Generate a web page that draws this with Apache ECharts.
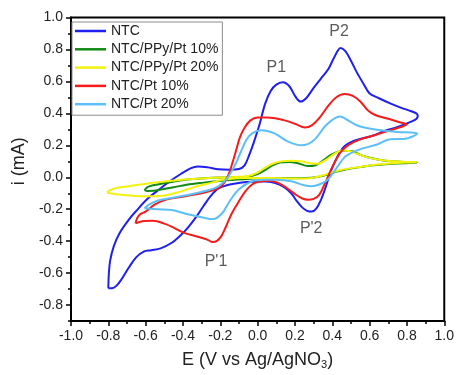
<!DOCTYPE html>
<html>
<head>
<meta charset="utf-8">
<script src="https://cdn.jsdelivr.net/npm/echarts@6/dist/echarts.min.js"></script>
<style>
  html, body { margin: 0; padding: 0; background: #fff; }
  #chart { width: 457px; height: 375px; }
</style>
</head>
<body>
<div id="chart"></div>
<script>
// Cyclic voltammograms: current i (mA) against potential E (V vs Ag/AgNO3).
// Each loop is listed as [E, i] pairs: anodic sweep left to right, then the return sweep.

const seriesNames = ['NTC', 'NTC/PPy/Pt 10%', 'NTC/PPy/Pt 20%', 'NTC/Pt 10%', 'NTC/Pt 20%'];
const seriesColors = ['#1f1ff0', '#138a13', '#f2f20f', '#f51c1c', '#5cbff7'];

const ntc = [
  [-0.80, -0.695], [-0.797, -0.60], [-0.79, -0.52], [-0.77, -0.43], [-0.74, -0.35],
  [-0.69, -0.265], [-0.65, -0.21], [-0.59, -0.135], [-0.53, -0.078], [-0.47, -0.025],
  [-0.41, 0.022], [-0.36, 0.056], [-0.32, 0.068], [-0.27, 0.063], [-0.21, 0.05],
  [-0.15, 0.047], [-0.10, 0.052], [-0.07, 0.075], [-0.045, 0.14], [-0.02, 0.22],
  [0.01, 0.33], [0.04, 0.46], [0.07, 0.54], [0.10, 0.58], [0.135, 0.595],
  [0.17, 0.57], [0.20, 0.51], [0.23, 0.474], [0.26, 0.495], [0.30, 0.56],
  [0.34, 0.62], [0.38, 0.68], [0.41, 0.75], [0.445, 0.81], [0.47, 0.79],
  [0.50, 0.73], [0.53, 0.66], [0.57, 0.58], [0.60, 0.525], [0.65, 0.495],
  [0.71, 0.463], [0.77, 0.435], [0.82, 0.415], [0.85, 0.40], [0.858, 0.385],
  [0.85, 0.365], [0.82, 0.347], [0.75, 0.315], [0.68, 0.29], [0.62, 0.262],
  [0.55, 0.24], [0.50, 0.22], [0.465, 0.195], [0.44, 0.155], [0.415, 0.10],
  [0.39, 0.03], [0.365, -0.06], [0.34, -0.14], [0.315, -0.195], [0.29, -0.215],
  [0.265, -0.21], [0.24, -0.19], [0.21, -0.15], [0.18, -0.10], [0.14, -0.06],
  [0.09, -0.035], [0.04, -0.026], [-0.01, -0.028], [-0.06, -0.03], [-0.11, -0.037],
  [-0.16, -0.048], [-0.21, -0.07], [-0.25, -0.115], [-0.29, -0.18], [-0.33, -0.25],
  [-0.37, -0.31], [-0.41, -0.36], [-0.46, -0.41], [-0.52, -0.445], [-0.57, -0.457],
  [-0.61, -0.465], [-0.65, -0.50], [-0.69, -0.565], [-0.73, -0.64], [-0.757, -0.68],
  [-0.78, -0.695], [-0.80, -0.695]
];

const ppyPt10 = [
  [-0.606, -0.08], [-0.59, -0.062], [-0.56, -0.05], [-0.50, -0.038], [-0.44, -0.025],
  [-0.36, -0.013], [-0.28, -0.006], [-0.20, -0.002], [-0.12, 0.0], [-0.05, 0.005],
  [0.0, 0.02], [0.04, 0.045], [0.08, 0.075], [0.12, 0.092], [0.165, 0.095],
  [0.21, 0.09], [0.27, 0.07], [0.31, 0.075], [0.35, 0.105], [0.40, 0.145],
  [0.45, 0.165], [0.50, 0.165], [0.54, 0.145], [0.59, 0.125], [0.65, 0.11],
  [0.72, 0.10], [0.80, 0.095], [0.855, 0.093],
  [0.78, 0.088], [0.70, 0.083], [0.62, 0.075], [0.54, 0.062], [0.47, 0.048],
  [0.42, 0.035], [0.37, 0.015], [0.32, 0.002], [0.26, -0.005], [0.18, -0.006],
  [0.10, -0.005], [0.02, -0.006], [-0.06, -0.01], [-0.14, -0.017], [-0.22, -0.025],
  [-0.30, -0.035], [-0.38, -0.047], [-0.45, -0.062], [-0.51, -0.075], [-0.56, -0.085],
  [-0.59, -0.086], [-0.606, -0.08]
];

const ppyPt20 = [
  [-0.807, -0.095], [-0.79, -0.08], [-0.76, -0.068], [-0.70, -0.058], [-0.63, -0.045],
  [-0.55, -0.032], [-0.46, -0.022], [-0.37, -0.013], [-0.28, -0.006], [-0.20, -0.002],
  [-0.12, 0.002], [-0.05, 0.008], [0.0, 0.03], [0.04, 0.06], [0.08, 0.085],
  [0.13, 0.10], [0.18, 0.104], [0.23, 0.10], [0.28, 0.088], [0.32, 0.085],
  [0.36, 0.105], [0.41, 0.145], [0.45, 0.168], [0.49, 0.165], [0.53, 0.148],
  [0.58, 0.128], [0.65, 0.11], [0.73, 0.10], [0.80, 0.096], [0.855, 0.095],
  [0.80, 0.092], [0.72, 0.088], [0.63, 0.078], [0.55, 0.065], [0.45, 0.047],
  [0.40, 0.032], [0.36, 0.016], [0.31, 0.0], [0.26, -0.008], [0.18, -0.008],
  [0.09, -0.005], [0.0, -0.004], [-0.08, -0.005], [-0.15, -0.01], [-0.20, -0.018],
  [-0.25, -0.035], [-0.31, -0.052], [-0.37, -0.073], [-0.43, -0.095], [-0.49, -0.112],
  [-0.55, -0.118], [-0.63, -0.118], [-0.70, -0.113], [-0.76, -0.106], [-0.79, -0.10],
  [-0.807, -0.095]
];

const pt10 = [
  [-0.654, -0.289], [-0.645, -0.255], [-0.63, -0.232], [-0.60, -0.215], [-0.55, -0.17],
  [-0.49, -0.14], [-0.43, -0.127], [-0.36, -0.113], [-0.30, -0.10], [-0.25, -0.085],
  [-0.21, -0.068], [-0.18, -0.035], [-0.155, 0.02], [-0.135, 0.09], [-0.115, 0.17],
  [-0.095, 0.25], [-0.07, 0.31], [-0.04, 0.355], [0.0, 0.375], [0.05, 0.375],
  [0.10, 0.368], [0.15, 0.355], [0.20, 0.335], [0.254, 0.311], [0.29, 0.325],
  [0.33, 0.37], [0.38, 0.45], [0.42, 0.50], [0.466, 0.521], [0.51, 0.51],
  [0.55, 0.475], [0.59, 0.42], [0.63, 0.39], [0.70, 0.367], [0.76, 0.345],
  [0.80, 0.33],
  [0.78, 0.32], [0.72, 0.298], [0.63, 0.265], [0.54, 0.233], [0.49, 0.205],
  [0.45, 0.165], [0.42, 0.11], [0.39, 0.04], [0.36, -0.04], [0.33, -0.11],
  [0.30, -0.135], [0.27, -0.14], [0.24, -0.133], [0.20, -0.105], [0.16, -0.07],
  [0.11, -0.035], [0.06, -0.022], [0.01, -0.027], [-0.03, -0.045], [-0.065, -0.087],
  [-0.10, -0.15], [-0.14, -0.23], [-0.17, -0.31], [-0.195, -0.37], [-0.22, -0.40],
  [-0.24, -0.406], [-0.27, -0.39], [-0.31, -0.375], [-0.36, -0.36], [-0.40, -0.345],
  [-0.45, -0.315], [-0.50, -0.29], [-0.56, -0.272], [-0.61, -0.274], [-0.654, -0.289]
];

const pt20 = [
  [-0.606, -0.194], [-0.58, -0.17], [-0.54, -0.148], [-0.44, -0.125], [-0.35, -0.105],
  [-0.26, -0.08], [-0.21, -0.056], [-0.16, 0.0], [-0.12, 0.08], [-0.09, 0.16],
  [-0.06, 0.235], [-0.03, 0.275], [0.02, 0.294], [0.09, 0.275], [0.16, 0.225],
  [0.236, 0.20], [0.30, 0.23], [0.37, 0.33], [0.44, 0.381], [0.50, 0.345],
  [0.55, 0.318], [0.63, 0.299], [0.75, 0.284], [0.855, 0.274],
  [0.785, 0.24], [0.71, 0.238], [0.64, 0.205], [0.54, 0.172], [0.47, 0.13],
  [0.43, 0.07], [0.40, 0.02], [0.37, -0.02], [0.33, -0.045], [0.29, -0.056],
  [0.25, -0.05], [0.18, -0.025], [0.10, -0.015], [0.04, -0.015], [-0.03, -0.025],
  [-0.10, -0.075], [-0.15, -0.15], [-0.19, -0.225], [-0.24, -0.262], [-0.30, -0.25],
  [-0.38, -0.23], [-0.46, -0.205], [-0.53, -0.20], [-0.59, -0.196], [-0.606, -0.194]
];

const loops = [ntc, ppyPt10, ppyPt20, pt10, pt20];

// Peak labels placed at [E, i]
const peakNames = ['P1', 'P2', "P'2", "P'1"];
const peakCoords = [[0.10, 0.69], [0.436, 0.91], [0.287, -0.32], [-0.223, -0.53]];

const xTickLabels = [-1.0, -0.8, -0.6, -0.4, -0.2, 0.0, 0.2, 0.4, 0.6, 0.8, 1.0];
const yTickLabels = [-0.8, -0.6, -0.4, -0.2, 0.0, 0.2, 0.4, 0.6, 0.8, 1.0];
const yMinorTicks = [-0.9, -0.7, -0.5, -0.3, -0.1, 0.1, 0.3, 0.5, 0.7, 0.9];

const FONT = '"Liberation Sans", Arial, sans-serif';
const chart = echarts.init(document.getElementById('chart'), null, { renderer: 'canvas' });

const lineSeries = loops.map((pts, k) => ({
  name: seriesNames[k],
  type: 'line',
  data: pts,
  smooth: 0.35,
  symbol: 'none',
  lineStyle: { color: seriesColors[k], width: 2 },
  itemStyle: { color: seriesColors[k] },
  z: 2 + k
}));

const peakSeries = {
  name: 'peaks',
  type: 'scatter',
  symbolSize: 0,
  data: peakNames.map((n, k) => ({ name: n, value: peakCoords[k] })),
  label: {
    show: true, position: 'inside', formatter: '{b}',
    fontFamily: FONT, fontSize: 16, color: '#333'
  },
  silent: true,
  z: 10
};

chart.setOption({
  animation: false,
  backgroundColor: '#fff',
  grid: {
    left: 71, top: 17.6, width: 376, height: 307,
    show: true, borderColor: '#000', borderWidth: 2, backgroundColor: 'transparent'
  },
  legend: {
    data: seriesNames.map(n => ({ name: n, icon: 'rect' })),
    orient: 'vertical',
    left: 72, top: 22,
    itemWidth: 31, itemHeight: 2.5, itemGap: 4.3,
    padding: [2, 4, 4, 3],
    borderColor: '#8c8c8c', borderWidth: 1,
    backgroundColor: '#fff',
    textStyle: { fontFamily: FONT, fontSize: 14, color: '#222', lineHeight: 14 }
  },
  xAxis: {
    type: 'value',
    min: -1.0, max: 1.0, interval: 0.2,
    name: 'E (V vs Ag/AgNO{sub|3})',
    nameLocation: 'middle', nameGap: 29,
    nameTextStyle: {
      fontFamily: FONT, fontSize: 18, color: '#222',
      rich: { sub: { fontFamily: FONT, fontSize: 11, color: '#222', padding: [9, 0, 0, 0] } }
    },
    axisLine: { show: true, onZero: false, lineStyle: { color: '#000', width: 2 } },
    axisTick: { show: true, length: 5, lineStyle: { color: '#000', width: 1.5 } },
    minorTick: { show: true, splitNumber: 2, length: 3, lineStyle: { color: '#000', width: 1.5 } },
    splitLine: { show: false },
    axisLabel: {
      fontFamily: FONT, fontSize: 14, color: '#222', margin: 8,
      formatter: v => (Math.abs(v) < 1e-9 ? 0 : v).toFixed(1)
    }
  },
  yAxis: [{
    type: 'value',
    min: -0.9, max: 1.0,
    name: 'i (mA)',
    nameLocation: 'middle', nameGap: 43,
    nameTextStyle: { fontFamily: FONT, fontSize: 18, color: '#222', padding: [0, 0, 0, 16] },
    axisLine: { show: true, onZero: false, lineStyle: { color: '#000', width: 2 } },
    axisTick: { show: true, length: 5, customValues: yTickLabels, lineStyle: { color: '#000', width: 1.5 } },
    splitLine: { show: false },
    axisLabel: {
      fontFamily: FONT, fontSize: 14, color: '#222', margin: 8,
      customValues: yTickLabels,
      formatter: v => (Math.abs(v) < 1e-9 ? 0 : v).toFixed(1)
    }
  }, {
    type: 'value',
    min: -0.9, max: 1.0,
    position: 'left',
    axisLine: { show: false, onZero: false },
    axisTick: { show: true, length: 3, customValues: yMinorTicks, lineStyle: { color: '#000', width: 1.5 } },
    axisLabel: { show: false },
    splitLine: { show: false }
  }],
  series: lineSeries.concat([peakSeries])
});
</script>
</body>
</html>
